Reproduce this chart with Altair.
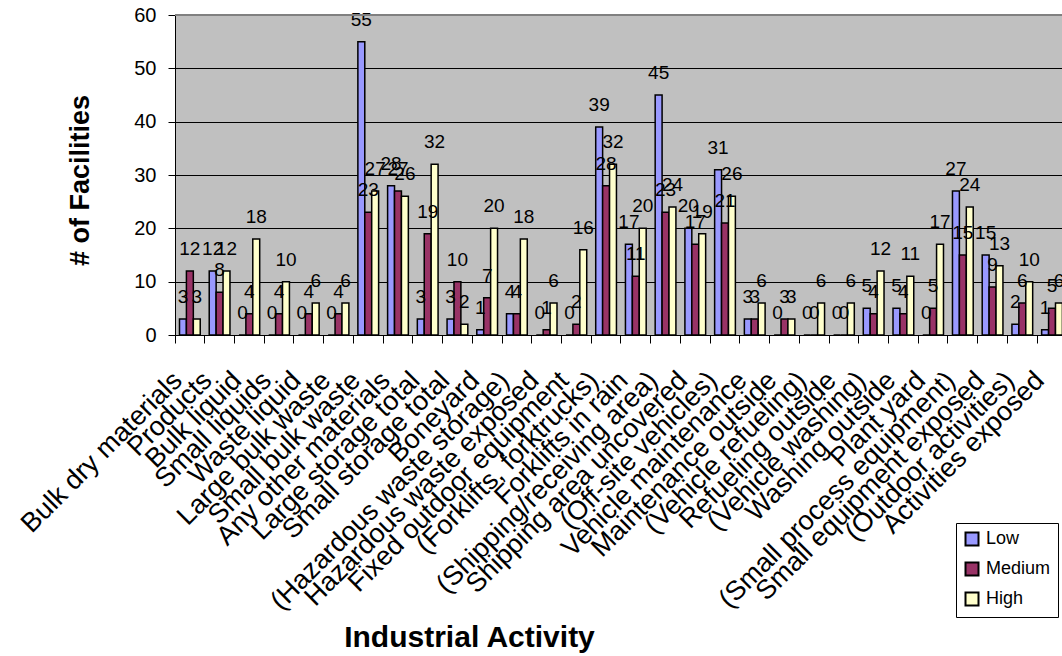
import altair as alt
import pandas as pd

categories = [
    "Bulk dry materials", "Products", "Bulk liquid", "Small liquids", "Waste liquid",
    "Large bulk waste", "Small bulk waste", "Any other materials", "Large storage total",
    "Small storage total", "Boneyard", "(Hazardous waste storage)", "Hazardous waste exposed",
    "Fixed outdoor equipment", "(Forklifts, forktrucks)", "Forklifts in rain",
    "(Shipping/receiving area)", "Shipping area uncovered", "(Off-site vehicles)",
    "Vehicle maintenance", "Maintenance outside", "(Vehicle refueling)", "Refueling outside",
    "(Vehicle washing)", "Washing outside", "Plant yard", "(Small process equipment)",
    "Small equipment exposed", "(Outdoor activities)", "Activities exposed",
]
low = [3, 12, 0, 0, 0, 0, 55, 28, 3, 3, 1, 4, 0, 0, 39, 17, 45, 20, 31, 3, 0, 0, 0, 5, 5, 0, 27, 15, 2, 1]
medium = [12, 8, 4, 4, 4, 4, 23, 27, 19, 10, 7, 4, 1, 2, 28, 11, 23, 17, 21, 3, 3, 0, 0, 4, 4, 5, 15, 9, 6, 5]
high = [3, 12, 18, 10, 6, 6, 27, 26, 32, 2, 20, 18, 6, 16, 32, 20, 24, 19, 26, 6, 3, 6, 6, 12, 11, 17, 24, 13, 10, 6]
levels = ["Low", "Medium", "High"]
colors = ["#9999FF", "#993366", "#FFFFCC"]
y_ticks = [0, 10, 20, 30, 40, 50, 60]

rows = []
for i, c in enumerate(categories):
    for lv, arr in zip(levels, [low, medium, high]):
        rows.append({"Activity": c, "Level": lv, "Value": arr[i]})
df = pd.DataFrame(rows)

FONT = "Liberation Sans"
n = len(categories)
step = 29.73
plot_w = 887
plot_h = 320

x_enc = alt.X(
    "Activity:N",
    sort=categories,
    scale=alt.Scale(range=[0, step * n], paddingInner=0, paddingOuter=0),
    axis=alt.Axis(
        title="Industrial Activity",
        titleFont=FONT, titleFontSize=30, titleFontWeight="bold", titleColor="black",
        titleX=294, titleY=311, titleAlign="center", titleBaseline="alphabetic",
        labelFont=FONT, labelFontSize=27, labelColor="black",
        labelAngle=-45, labelAlign="right", labelBaseline="middle",
        labelPadding=33, labelOffset=-12, labelOverlap=False, labelLimit=600,
        bandPosition=0, tickSize=8, tickColor="black", domainColor="black",
        grid=False,
    ),
)
xoff = alt.XOffset("Level:N", sort=levels, scale=alt.Scale(paddingInner=0, paddingOuter=0.65))
y_enc = alt.Y(
    "Value:Q",
    scale=alt.Scale(domain=[0, 60], nice=False),
    axis=alt.Axis(
        title="# of Facilities",
        titleFont=FONT, titleFontSize=27, titleFontWeight="bold", titleColor="black",
        titleAngle=270, titleX=-95, titleY=165, titleAlign="center", titleBaseline="middle",
        values=y_ticks, labelFont=FONT, labelFontSize=20, labelColor="black",
        labelPadding=12, tickSize=7, tickColor="black", domainColor="black",
        grid=True, gridColor="black", gridWidth=1,
    ),
)

base = alt.Chart(df)

bars = base.mark_bar(stroke="black", strokeWidth=1.5).encode(
    x=x_enc,
    xOffset=xoff,
    y=y_enc,
    color=alt.Color(
        "Level:N",
        sort=levels,
        scale=alt.Scale(domain=levels, range=colors),
        legend=alt.Legend(
            title=None, orient="none", legendX=781, legendY=508,
            fillColor="white", strokeColor="black", padding=7,
            symbolType="square", symbolSize=169, symbolStrokeColor="black", symbolStrokeWidth=2,
            labelFont=FONT, labelFontSize=18, labelColor="black", rowPadding=8, labelOffset=5,
        ),
    ),
)

labels = base.mark_text(font=FONT, fontSize=19, color="black", baseline="alphabetic", dy=-16).encode(
    x=alt.X("Activity:N", sort=categories),
    xOffset=alt.XOffset("Level:N", sort=levels),
    y=alt.Y("Value:Q"),
    text=alt.Text("Value:Q"),
)

top_border = alt.Chart(pd.DataFrame({"t": [0]})).mark_rule(color="#808080", strokeWidth=2).encode(
    y=alt.value(0)
)

chart = (
    alt.layer(bars, labels, top_border)
    .properties(
        width=plot_w, height=plot_h,
        autosize=alt.AutoSizeParams(type="none"),
        padding={"left": 175, "top": 15, "right": 0, "bottom": 656 - 15 - plot_h},
        background="white",
    )
    .configure_view(fill="#C0C0C0", stroke=None)
)

chart.save("out.html", embed_options={"renderer": "svg", "actions": False})
